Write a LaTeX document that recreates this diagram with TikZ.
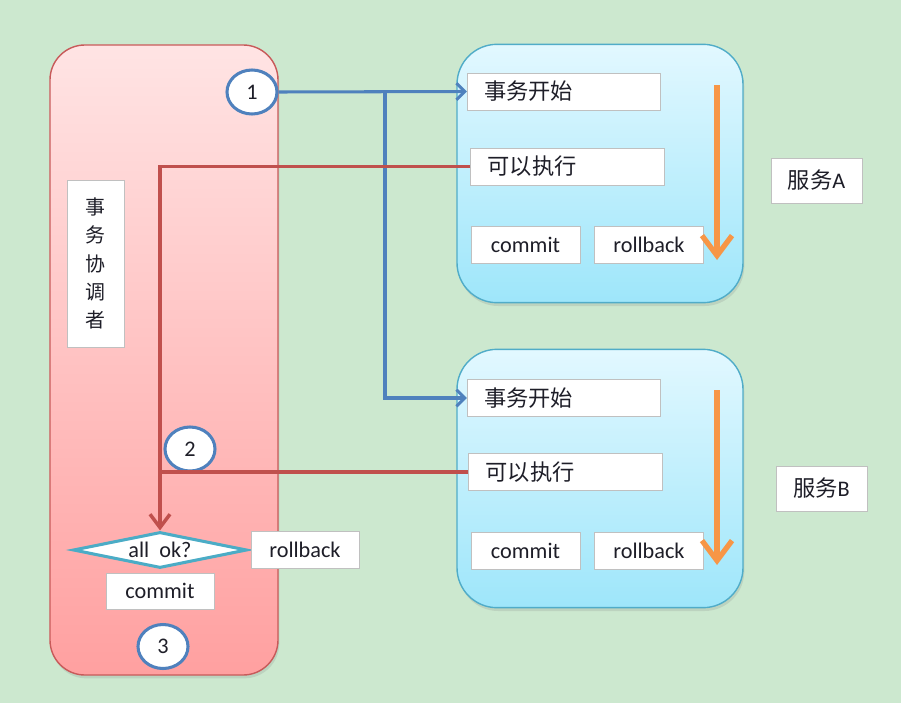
\documentclass[tikz,border=0pt]{standalone}
\usepackage{fontspec}
\setmainfont{Carlito}
\newfontfamily\cjk{Noto Sans CJK SC}
\usepackage{tikz}
\usetikzlibrary{arrows.meta,positioning,shapes.geometric,shadows}

\definecolor{bggreen}{RGB}{204,232,207}
\definecolor{lanered}{RGB}{200,90,90}
\definecolor{lanetop}{RGB}{255,228,228}
\definecolor{lanebottom}{RGB}{255,160,160}
\definecolor{svcborder}{RGB}{80,172,200}
\definecolor{svctop}{RGB}{226,248,255}
\definecolor{svcbottom}{RGB}{158,230,250}
\definecolor{cellgray}{RGB}{192,192,192}
\definecolor{textdark}{RGB}{30,30,40}
\definecolor{badgeblue}{RGB}{79,129,189}
\definecolor{decteal}{RGB}{75,172,198}
\definecolor{lineblue}{RGB}{79,129,189}
\definecolor{linered}{RGB}{192,80,77}
\definecolor{flow}{RGB}{247,150,70}

\begin{document}
\begin{tikzpicture}[
                x=0.03cm, y=-0.03cm,
                lane/.style={draw=lanered, line width=1.2pt, rounded corners=1.05cm, top color=lanetop, bottom color=lanebottom, minimum width=6.84cm, minimum height=18.9cm, drop shadow={shadow xshift=0.04cm, shadow yshift=-0.1cm, opacity=0.2}},
                service/.style={draw=svcborder, line width=1.2pt, rounded corners=1.2cm, top color=svctop, bottom color=svcbottom, minimum width=8.58cm, minimum height=7.75cm, drop shadow={shadow xshift=0.04cm, shadow yshift=-0.1cm, opacity=0.2}},
                cell/.style={draw=cellgray, fill=white, line width=0.8pt, inner sep=0pt, minimum height=1.11cm, text=textdark, font=\fontsize{19}{23}\selectfont},
                wide/.style={cell, text width=4.8cm, inner xsep=0.5cm, align=left},
                short/.style={cell, minimum width=3.27cm},
                badge/.style={ellipse, draw=badgeblue, line width=2.6pt, fill=white, minimum width=1.5cm, minimum height=1.32cm, inner sep=0pt, text=textdark, font=\fontsize{19}{23}\selectfont},
                decision/.style={diamond, aspect=5, draw=decteal, line width=2.6pt, fill=white, minimum width=5.22cm, minimum height=1.08cm, inner sep=0pt, text=textdark, font=\fontsize{19}{23}\selectfont},
                blue arrow/.style={draw=lineblue, line width=2.6pt, -{Straight Barb[length=0.25cm, width=0.5cm]}},
                red arrow/.style={draw=linered, line width=3pt, -{Straight Barb[length=0.4cm, width=0.6cm]}},
                red line/.style={draw=linered, line width=3pt},
                flow arrow/.style={draw=flow, line width=4.5pt, -{Straight Barb[length=0.6cm, width=0.9cm]}}
            ]

            \fill[bggreen] (0,0) rectangle (901,703);
            \useasboundingbox (0,0) rectangle (901,703);

            % coordinator
            \node[lane] (coord) at (164,360) {};

            \node[cell, minimum width=1.71cm, minimum height=5.01cm, align=center, font=\cjk\fontsize{17}{24}\selectfont] (role) at (95.5,263.5) {事\\务\\协\\调\\者};

            \node[badge] (one) at (252,92) {1};
            \node[badge] (two) at (190,449) {2};
            \node[badge] (three) at (163,646.5) {3};

            \node[decision] (allok) at (160,550) {all~ ok?};
            \node[cell, minimum width=3.24cm, right=0.06cm of allok] (rollback) {rollback};
            \node[cell, minimum width=3.24cm, minimum height=1.08cm, below=0.09cm of allok] (commit) {commit};

            % service A
            \node[service] (svcA) at (600,173.5) {};
            \node[wide] (startA) at (564,91.5) {\cjk 事务开始};
            \node[wide] (execA) at (567.5,166.5) {\cjk 可以执行};
            \node[short] (commitA) at (525.5,244.5) {commit};
            \node[short] (rollbackA) at (649,244.5) {rollback};
            \node[cell, minimum width=2.73cm, minimum height=1.35cm] (nameA) at (816.5,180.5) {{\cjk 服务}A};

            % service B
            \node[service] (svcB) at (600,478.5) {};
            \node[wide] (startB) at (564,398) {\cjk 事务开始};
            \node[wide] (execB) at (565.5,472) {\cjk 可以执行};
            \node[short] (commitB) at (525.5,551) {commit};
            \node[short] (rollbackB) at (649,551) {rollback};
            \node[cell, minimum width=2.73cm, minimum height=1.35cm] (nameB) at (821.5,488.5) {{\cjk 服务}B};

            % phase 1
            \coordinate (fork) at (385,92);
            \draw[blue arrow] (one.east) -- (startA.west);
            \draw[blue arrow] (fork) |- (startB.west);

            % phase 2
            \coordinate (join) at (160,472);
            \draw[red arrow] (execA.west) -| (allok.north);
            \draw[red line] (execB.west) -- (join);

            % local flow
            \coordinate (topA) at (717,85);
            \coordinate (endA) at (717,260);
            \coordinate (topB) at (717,390);
            \coordinate (endB) at (717,565);
            \draw[flow arrow] (topA) -- (endA);
            \draw[flow arrow] (topB) -- (endB);

        \end{tikzpicture}
\end{document}
